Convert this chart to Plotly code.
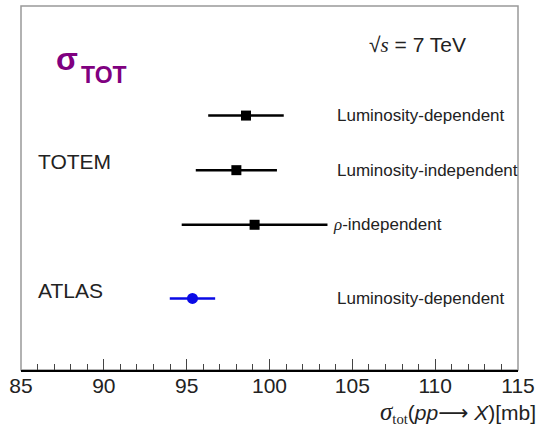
import plotly.graph_objects as go

# Data
labels = ["Luminosity-dependent", "Luminosity-independent", "ρ-independent", "Luminosity-dependent"]
experiments = ["TOTEM", "TOTEM", "TOTEM", "ATLAS"]
sigma_tot = [98.58, 98.0, 99.1, 95.35]
sigma_err = [2.28, 2.45, 4.4, 1.37]
row_y = [4.66, 3.66, 2.66, 1.31]

x_ticks = [85, 90, 95, 100, 105, 110, 115]

FONT = "Liberation Sans, Arial, sans-serif"

fig = go.Figure()

# TOTEM points
fig.add_trace(go.Scatter(
    x=sigma_tot[:3], y=row_y[:3], mode="markers",
    marker=dict(symbol="square", size=10, color="black"),
    error_x=dict(type="data", array=sigma_err[:3], color="black", thickness=2.5, width=0),
    showlegend=False, hoverinfo="x"))

# ATLAS point
fig.add_trace(go.Scatter(
    x=sigma_tot[3:], y=row_y[3:], mode="markers",
    marker=dict(symbol="circle", size=11, color="#0a0ae6"),
    error_x=dict(type="data", array=sigma_err[3:], color="#0a0ae6", thickness=2.5, width=0),
    showlegend=False, hoverinfo="x"))

annotations = []
# right-side labels
for i, (lab, y) in enumerate(zip(labels, row_y)):
    if lab.startswith("ρ"):
        txt = "<span style='font-family:Liberation Serif'><i>ρ</i></span>-independent"
        xx = 103.72
    else:
        txt = lab
        xx = 103.98
    annotations.append(dict(x=xx, y=y, xref="x", yref="y", text=txt, showarrow=False,
                            xanchor="left", yanchor="middle",
                            font=dict(family=FONT, size=17, color="#222")))

# experiment labels
annotations.append(dict(x=85.9, y=3.81, xref="x", yref="y", text="TOTEM", showarrow=False,
                        xanchor="left", yanchor="middle", font=dict(family=FONT, size=21, color="#222")))
annotations.append(dict(x=85.9, y=1.46, xref="x", yref="y", text="ATLAS", showarrow=False,
                        xanchor="left", yanchor="middle", font=dict(family=FONT, size=21, color="#222")))

# sigma_TOT
annotations.append(dict(x=87.0, y=5.70, xref="x", yref="y", text="<b>σ</b>", showarrow=False,
                        xanchor="left", yanchor="middle", font=dict(family=FONT, size=32, color="#800080")))
annotations.append(dict(x=88.5, y=5.40, xref="x", yref="y", text="<b>TOT</b>", showarrow=False,
                        xanchor="left", yanchor="middle", font=dict(family=FONT, size=23, color="#800080")))

# sqrt(s)
annotations.append(dict(x=105.9, y=5.95, xref="x", yref="y",
                        text="√<span style='font-family:Liberation Serif'><i>s</i></span> = 7 TeV",
                        showarrow=False, xanchor="left", yanchor="middle",
                        font=dict(family=FONT, size=21, color="#222")))

# axis title
annotations.append(dict(x=1.04, y=-0.118, xref="paper", yref="paper",
                        text="<span style='font-family:Liberation Serif;font-size:25px'><i>σ</i></span>"
                             "<sub><span style='font-family:Liberation Serif'>tot</span></sub>"
                             "(<i>pp</i><span style='font-family:DejaVu Sans'>⟶</span> <i>X</i>)[mb]",
                        showarrow=False, xanchor="right", yanchor="middle",
                        font=dict(family=FONT, size=21, color="#222")))

fig.update_layout(
    width=541, height=427,
    margin=dict(l=21, r=17, t=6, b=57),
    paper_bgcolor="white", plot_bgcolor="white",
    annotations=annotations,
    shapes=[dict(type="rect", xref="paper", yref="paper", x0=0, x1=1, y0=0, y1=1,
                 line=dict(color="#999", width=1.5), layer="below")],
)

fig.update_xaxes(
    range=[85, 115], tickvals=x_ticks, ticktext=[str(v) for v in x_ticks],
    showgrid=False, zeroline=False,
    showline=True, linecolor="black", linewidth=2,
    ticks="inside", ticklen=11, tickwidth=1, tickcolor="#444",
    minor=dict(ticks="inside", dtick=1, ticklen=6, tickwidth=1, tickcolor="#444", showgrid=False),
    tickfont=dict(family=FONT, size=21, color="#222"),
    ticklabelstandoff=-4,
)
fig.update_yaxes(range=[0, 6.667], visible=False, showgrid=False, zeroline=False)

fig.write_html("out.html")
